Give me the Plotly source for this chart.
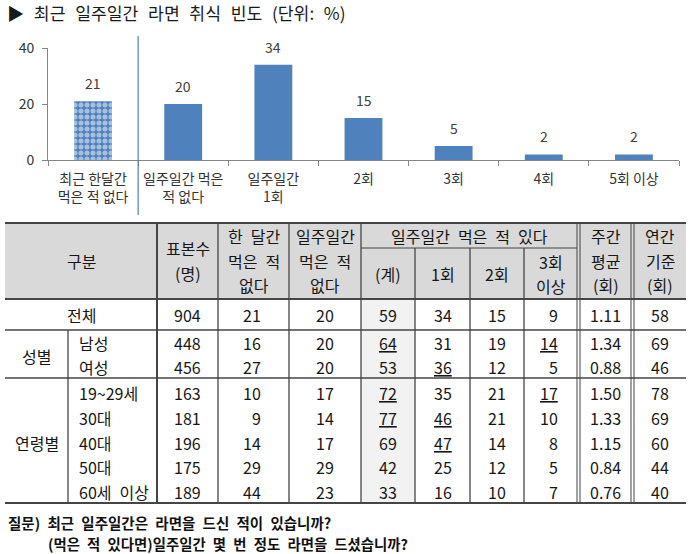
import plotly.graph_objects as go

# ---------------- data ----------------
chart_categories = ["최근 한달간<br>먹은 적 없다", "일주일간 먹은<br>적 없다", "일주일간<br>1회",
                    "2회", "3회", "4회", "5회 이상"]
chart_values = [21, 20, 34, 15, 5, 2, 2]
chart_patterned = [True, False, False, False, False, False, False]

title_text = "▶ 최근 일주일간 라면 취식 빈도 (단위: %)"
question_1 = "질문) 최근 일주일간은 라면을 드신 적이 있습니까?"
question_2 = "(먹은 적 있다면)일주일간 몇 번 정도 라면을 드셨습니까?"

row_groups = ["", "성별", "성별", "연령별", "연령별", "연령별", "연령별", "연령별"]
row_labels = ["전체", "남성", "여성", "19~29세", "30대", "40대", "50대", "60세 이상"]
sample_n = [904, 448, 456, 163, 181, 196, 175, 189]
not_month = [21, 16, 27, 10, 9, 14, 29, 44]
not_week = [20, 20, 20, 17, 14, 17, 29, 23]
week_total = [59, 64, 53, 72, 77, 69, 42, 33]
week_1 = [34, 31, 36, 35, 46, 47, 25, 16]
week_2 = [15, 19, 12, 21, 21, 14, 12, 10]
week_3plus = [9, 14, 5, 17, 10, 8, 5, 7]
weekly_avg = ["1.11", "1.34", "0.88", "1.50", "1.33", "1.15", "0.84", "0.76"]
annual = [58, 69, 46, 78, 69, 60, 44, 40]

# underlined cells: (column name, row label)
underlined = [("week_total", "남성"), ("week_total", "19~29세"), ("week_total", "30대"),
              ("week_1", "여성"), ("week_1", "30대"), ("week_1", "40대"),
              ("week_3plus", "남성"), ("week_3plus", "19~29세")]

header_cols = [
    ("sample_n", ["표본수", "(명)"]),
    ("not_month", ["한 달간", "먹은 적", "없다"]),
    ("not_week", ["일주일간", "먹은 적", "없다"]),
    ("week_total", ["(계)"]),
    ("week_1", ["1회"]),
    ("week_2", ["2회"]),
    ("week_3plus", ["3회", "이상"]),
    ("weekly_avg", ["주간", "평균", "(회)"]),
    ("annual", ["연간", "기준", "(회)"]),
]
group_header = "일주일간 먹은 적 있다"
columns = {"sample_n": sample_n, "not_month": not_month, "not_week": not_week,
           "week_total": week_total, "week_1": week_1, "week_2": week_2,
           "week_3plus": week_3plus, "weekly_avg": weekly_avg, "annual": annual}

# ---------------- layout helpers ----------------
W, H = 700, 554
FONT = "Noto Sans CJK KR"
BLUE = "#4F81BD"
LINE = "#454545"
SP = "\u2002"


def px(x):
    return x / W


def py(y):
    return 1 - y / H


def wide(s, sp=SP):
    return s.replace(" ", sp)


fig = go.Figure()

# ---------------- bar chart ----------------
fig.add_trace(go.Bar(
    x=chart_categories, y=chart_values, width=0.42,
    marker=dict(color=BLUE, line=dict(width=0),
                pattern=dict(shape=["." if p else "" for p in chart_patterned],
                             fgcolor="white", bgcolor=BLUE, size=6, solidity=0.55)),
    hoverinfo="skip", showlegend=False))

annotations = []
for c, v in zip(chart_categories, chart_values):
    annotations.append(dict(x=c, y=v, xref="x", yref="y", text=str(v), showarrow=False,
                            yshift=18, yanchor="middle",
                            font=dict(family=FONT, size=14, color="#404040")))

shapes = []
# blue separator between first and second category
shapes.append(dict(type="line", xref="x", yref="paper", x0=0.5, x1=0.5,
                   y0=py(36), y1=py(215), line=dict(color=BLUE, width=1.2)))

# ---------------- table geometry ----------------
T_L, T_R = 5, 686
y_top, y_mid, y_head, y_all, y_sex, y_bot = 223, 248, 299, 330, 378, 503
x_sub, x_first = 68, 157
col_x = [157, 218, 289, 361, 415, 470, 524, 577, 631, 686]
double_at = {577: 3, 631: 3}

# fills
shapes.append(dict(type="rect", xref="paper", yref="paper", x0=px(T_L), x1=px(T_R),
                   y0=py(y_top), y1=py(y_head), fillcolor="#d9d9d9", line=dict(width=0), layer="below"))
shapes.append(dict(type="rect", xref="paper", yref="paper", x0=px(361), x1=px(415),
                   y0=py(y_head), y1=py(y_bot), fillcolor="#f2f2f2", line=dict(width=0), layer="below"))


def hline(y, x0, x1, w):
    shapes.append(dict(type="line", xref="paper", yref="paper", x0=px(x0), x1=px(x1),
                       y0=py(y), y1=py(y), line=dict(color=LINE, width=w)))


def vline(x, y0, y1, w):
    shapes.append(dict(type="line", xref="paper", yref="paper", x0=px(x), x1=px(x),
                       y0=py(y0), y1=py(y1), line=dict(color=LINE, width=w)))


hline(y_top, T_L, T_R, 2)
hline(y_mid, 361, 577, 1.2)
hline(y_head, T_L, T_R, 2)
hline(y_all, T_L, T_R, 1.3)
hline(y_sex, T_L, T_R, 1.3)
hline(y_bot, T_L, T_R, 2)
vline(x_sub, y_all, y_bot, 1.3)
vline(x_first, y_top, y_bot, 2)
for x in col_x[1:-1]:
    top = y_mid if x in (415, 470, 524) else y_top
    if x in double_at:
        vline(x, y_top, y_bot, 1)
        vline(x + double_at[x], y_top, y_bot, 1)
    else:
        vline(x, top, y_bot, 1.3)

TXT = "#161616"


def text(x, y, s, size=16, anchor="center", bold=False, color=TXT):
    if bold:
        s = "<b>" + s + "</b>"
    annotations.append(dict(x=px(x), y=py(y), xref="paper", yref="paper", text=s,
                            showarrow=False, xanchor=anchor, yanchor="middle",
                            font=dict(family=FONT, size=size, color=color)))


# title & question
text(5, 12.5, wide(title_text, "\u2002\u200a"), size=17.2, anchor="left", color="#1a1a1a")
text(6, 522, wide(question_1), size=14.5, anchor="left", bold=True, color="#111")
text(46, 543.5, wide(question_2), size=14.4, anchor="left", bold=True, color="#111")

# header
text((T_L + x_first) / 2, 261, "구분")
centers = []
for i in range(len(col_x) - 1):
    l = col_x[i] + double_at.get(col_x[i], 0)
    r = col_x[i + 1]
    centers.append((l + r) / 2)
for (key, lines), cx in zip(header_cols, centers):
    n = len(lines)
    if key in ("week_total", "week_1", "week_2", "week_3plus"):
        mid = (y_mid + y_head) / 2 + 0.5
    else:
        mid = (y_top + y_head) / 2 - 0.5
    step = 24.5 if n == 3 else 24
    for j, ln in enumerate(lines):
        text(cx, mid + (j - (n - 1) / 2) * step, wide(ln))
text((361 + 577) / 2, (y_top + y_mid) / 2, wide(group_header))

# body rows
row_y = [(y_head + y_all) / 2 + 0.5]
for k in range(2):
    row_y.append(y_all + 13 + 24 * k)
for k in range(5):
    row_y.append(y_sex + 15 + 24.75 * k)

text((T_L + x_first) / 2, row_y[0], row_labels[0])
text((T_L + x_sub) / 2, (row_y[1] + row_y[2]) / 2 + 1, "성별")
text((T_L + x_sub) / 2, row_y[5], "연령별")
for lab, yy in zip(row_labels[1:], row_y[1:]):
    text(77, yy, wide(lab), anchor="left")

under_set = set(underlined)
for (key, _), cx in zip(header_cols, centers):
    vals = [str(v) for v in columns[key]]
    same = len(set(len(v) for v in vals)) == 1
    for lab, v, yy in zip(row_labels, vals, row_y):
        s = "<u>" + v + "</u>" if (key, lab) in under_set else v
        if same:
            text(cx, yy, s)
        else:
            text(cx + 9.5, yy, s, anchor="right")

fig.update_layout(
    width=W, height=H, autosize=False,
    margin=dict(l=0, r=0, t=0, b=0, pad=0, autoexpand=False),
    paper_bgcolor="white", plot_bgcolor="white",
    font=dict(family=FONT, size=14, color="#333"),
    showlegend=False,
    xaxis=dict(domain=[px(48), px(679)], type="category", range=[-0.5, 6.5],
               automargin=False, ticklabelstandoff=6,
               showline=True, linecolor="#868686", linewidth=1,
               ticks="outside", tickson="boundaries", ticklen=5, tickcolor="#868686",
               showgrid=False, zeroline=False, fixedrange=True,
               tickfont=dict(family=FONT, size=14, color="#333")),
    yaxis=dict(domain=[py(160), py(48)], range=[0, 40], tickvals=[0, 20, 40],
               automargin=False, ticklabelstandoff=5,
               showline=True, linecolor="#868686", linewidth=1,
               ticks="outside", ticklen=5, tickcolor="#868686",
               showgrid=False, zeroline=False, fixedrange=True,
               tickfont=dict(family=FONT, size=14, color="#333")),
    shapes=shapes,
    annotations=annotations,
)

fig.write_html("out.html", config={"responsive": False})
